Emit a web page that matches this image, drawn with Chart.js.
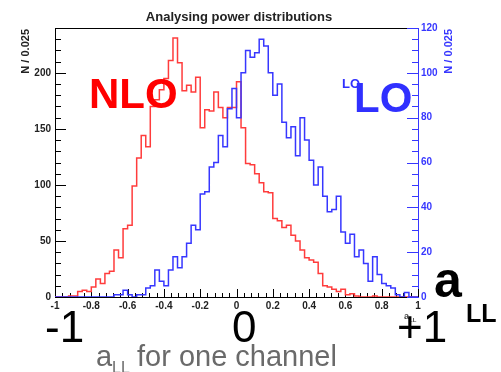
<!DOCTYPE html>
<html>
<head>
<meta charset="utf-8">
<script src="https://cdn.jsdelivr.net/npm/chart.js@4.4.1/dist/chart.umd.min.js"></script>
<style>
  html, body { margin: 0; padding: 0; background: #fff; }
</style>
</head>
<body>
<canvas id="chart" width="501" height="372"></canvas>
<script>
// ─── Histogram data: 80 bins of width 0.025 on [-1, 1] ───

const binEdges = [
  -1, -0.975, -0.95, -0.925, -0.9, -0.875, -0.85, -0.825, -0.8, -0.775,
  -0.75, -0.725, -0.7, -0.675, -0.65, -0.625, -0.6, -0.575, -0.55, -0.525,
  -0.5, -0.475, -0.45, -0.425, -0.4, -0.375, -0.35, -0.325, -0.3, -0.275,
  -0.25, -0.225, -0.2, -0.175, -0.15, -0.125, -0.1, -0.075, -0.05, -0.025,
  0, 0.025, 0.05, 0.075, 0.1, 0.125, 0.15, 0.175, 0.2, 0.225,
  0.25, 0.275, 0.3, 0.325, 0.35, 0.375, 0.4, 0.425, 0.45, 0.475,
  0.5, 0.525, 0.55, 0.575, 0.6, 0.625, 0.65, 0.675, 0.7, 0.725,
  0.75, 0.775, 0.8, 0.825, 0.85, 0.875, 0.9, 0.925, 0.95, 0.975,
  1,
];

// NLO counts (left axis)
const nloCounts = [
  0, 0, 0, 1, 1, 5, 6, 5, 9, 16,
  12, 21, 23, 42, 35, 61, 64, 99, 124, 144,
  134, 170, 176, 185, 195, 211, 231, 209, 184, 189,
  183, 196, 151, 167, 166, 183, 169, 160, 169, 169,
  192, 151, 119, 118, 110, 102, 94, 93, 70, 68,
  62, 64, 55, 50, 42, 35, 33, 31, 21, 10,
  9, 7, 5, 7, 2, 3, 1, 0, 0, 0,
  1, 0, 0, 0, 0, 0, 0, 0, 0, 0,
];

// LO counts (right axis)
const loCounts = [
  0, 0, 0, 0, 0, 0, 0, 0, 0, 0,
  0, 0, 0, 1, 1, 3, 1, 0, 1, 1,
  4, 5, 12, 7, 5, 12, 18, 13, 18, 24,
  32, 30, 46, 47, 58, 60, 72, 67, 84, 93,
  80, 100, 110, 107, 109, 115, 112, 100, 90, 95,
  78, 71, 76, 63, 80, 70, 61, 50, 58, 45,
  38, 39, 45, 29, 24, 28, 18, 21, 15, 7,
  18, 10, 6, 5, 4, 1, 0, 2, 0, 0,
];

const xTickValues = [-1, -0.8, -0.6, -0.4, -0.2, 0, 0.2, 0.4, 0.6, 0.8, 1];
const xTickLabels = ['-1', '-0.8', '-0.6', '-0.4', '-0.2', '0', '0.2', '0.4', '0.6', '0.8', '1'];
const yLeftTickValues = [0, 50, 100, 150, 200];
const yLeftTickLabels = ['0', '50', '100', '150', '200'];
const yRightTickValues = [0, 20, 40, 60, 80, 100, 120];
const yRightTickLabels = ['0', '20', '40', '60', '80', '100', '120'];

// ─── Style ───

const FONT = "'Liberation Sans', Arial, Helvetica, sans-serif";
const RED = 'rgb(255, 60, 60)';
const BLUE = 'rgb(55, 55, 255)';

// step outline: one point per left bin edge, last edge repeats the last bin
function histPoints(counts) {
  return binEdges.map((x, i) => ({ x, y: counts[Math.min(i, counts.length - 1)] }));
}

function fixedTicks(values) {
  return scale => { scale.ticks = values.map(v => ({ value: v })); };
}

// ─── ROOT-style inward tick marks + top frame ───

const rootFrame = {
  id: 'rootFrame',
  beforeDatasetsDraw(chart) {
    const { ctx, chartArea: a, scales: { x, yL, yR } } = chart;
    const px = v => Math.round(v) + 0.5;
    ctx.save();
    ctx.lineWidth = 1;

    ctx.strokeStyle = '#000';
    ctx.beginPath();
    ctx.moveTo(a.left, px(a.top));
    ctx.lineTo(a.right, px(a.top));
    // x ticks, major every 0.2, minor every 0.04
    for (let k = 0; k <= 50; k++) {
      const xp = px(x.getPixelForValue(-1 + k * 0.04));
      const len = k % 5 === 0 ? 8 : 4;
      ctx.moveTo(xp, a.bottom);
      ctx.lineTo(xp, a.bottom - len);
    }
    // left ticks, major every 50, minor every 10
    for (let v = 0; v <= 240; v += 10) {
      const yp = px(yL.getPixelForValue(v));
      const len = v % 50 === 0 ? 11 : 6;
      ctx.moveTo(a.left, yp);
      ctx.lineTo(a.left + len, yp);
    }
    ctx.stroke();

    // right ticks, major every 20, minor every 5
    ctx.strokeStyle = BLUE;
    ctx.beginPath();
    for (let v = 0; v <= 120; v += 5) {
      const yp = px(yR.getPixelForValue(v));
      const len = v % 20 === 0 ? 11 : 6;
      ctx.moveTo(a.right, yp);
      ctx.lineTo(a.right - len, yp);
    }
    ctx.stroke();
    ctx.restore();
  },
};

// ─── Annotations (title, axis titles, big labels) ───

function text(ctx, str, x, y, font, color, align = 'left') {
  ctx.font = font;
  ctx.fillStyle = color;
  ctx.textAlign = align;
  ctx.textBaseline = 'alphabetic';
  ctx.fillText(str, x, y);
}

function vtext(ctx, str, x, y, font, color) {
  ctx.save();
  ctx.translate(x, y);
  ctx.rotate(-Math.PI / 2);
  ctx.font = font;
  ctx.fillStyle = color;
  ctx.textAlign = 'right';
  ctx.textBaseline = 'middle';
  ctx.fillText(str, 0, 0);
  ctx.restore();
}

const annotations = {
  id: 'annotations',
  afterDatasetsDraw(chart) {
    const ctx = chart.ctx;
    ctx.save();
    text(ctx, 'Analysing power distributions', 239, 21, `bold 13px ${FONT}`, '#222', 'center');
    vtext(ctx, 'N / 0.025', 26, 29, `bold 11px ${FONT}`, '#222');
    vtext(ctx, 'N / 0.025', 449, 29, `bold 11px ${FONT}`, BLUE);

    text(ctx, 'NLO', 89, 108, `bold 42px ${FONT}`, '#ff0000');
    text(ctx, 'LO', 342, 88, `bold 13px ${FONT}`, '#3030ff');
    text(ctx, 'LO', 354, 112, `bold 42px ${FONT}`, '#3030ff');

    // small ROOT axis title, partly hidden behind "+1"
    text(ctx, 'a', 404, 319, `bold 9px ${FONT}`, '#444');
    text(ctx, 'LL', 409, 322, `bold 6px ${FONT}`, '#444');

    text(ctx, 'a', 434, 297, `bold 50px ${FONT}`, '#000');
    text(ctx, 'LL', 466, 322, `bold 25px ${FONT}`, '#000');

    text(ctx, '-1', 45, 342, `44px ${FONT}`, '#000');
    text(ctx, '0', 232, 342, `44px ${FONT}`, '#000');
    text(ctx, '+1', 397, 342, `44px ${FONT}`, '#000');

    text(ctx, 'a', 96, 366, `29px ${FONT}`, '#6a6a6a');
    text(ctx, 'LL', 112, 373, `16px ${FONT}`, '#6a6a6a');
    text(ctx, 'for one channel', 137, 366, `29px ${FONT}`, '#6a6a6a');
    ctx.restore();
  },
};

// ─── Chart ───

new Chart(document.getElementById('chart'), {
  type: 'line',
  data: {
    datasets: [
      {
        label: 'LO',
        data: histPoints(loCounts),
        yAxisID: 'yR',
        borderColor: BLUE,
        borderWidth: 1.5,
        stepped: true,
        pointRadius: 0,
        fill: false,
        order: 0,
      },
      {
        label: 'NLO',
        data: histPoints(nloCounts),
        yAxisID: 'yL',
        borderColor: RED,
        borderWidth: 1.5,
        stepped: true,
        pointRadius: 0,
        fill: false,
        order: 1,
      },
    ],
  },
  options: {
    responsive: false,
    animation: false,
    layout: { padding: { top: 28, left: 0, right: 0, bottom: 0 } },
    plugins: {
      legend: { display: false },
      tooltip: { enabled: false },
    },
    scales: {
      x: {
        type: 'linear',
        position: 'bottom',
        min: -1,
        max: 1,
        grid: { display: false, drawTicks: false },
        border: { display: true, color: '#000', width: 1 },
        ticks: {
          color: '#222',
          padding: 3,
          autoSkip: false,
          maxRotation: 0,
          font: { family: FONT, size: 10, weight: 'bold' },
          callback: (v, i) => xTickLabels[i],
        },
        afterBuildTicks: fixedTicks(xTickValues),
        afterFit: s => { s.height = 75; },
      },
      yL: {
        type: 'linear',
        position: 'left',
        min: 0,
        max: 240,
        grid: { display: false, drawTicks: false },
        border: { display: true, color: '#000', width: 1 },
        ticks: {
          color: '#222',
          padding: 4,
          font: { family: FONT, size: 10, weight: 'bold' },
          callback: (v, i) => yLeftTickLabels[i],
        },
        afterBuildTicks: fixedTicks(yLeftTickValues),
        afterFit: s => { s.width = 55; },
      },
      yR: {
        type: 'linear',
        position: 'right',
        min: 0,
        max: 120,
        grid: { display: false, drawTicks: false },
        border: { display: true, color: BLUE, width: 1 },
        ticks: {
          color: BLUE,
          padding: 3,
          font: { family: FONT, size: 10, weight: 'bold' },
          callback: (v, i) => yRightTickLabels[i],
        },
        afterBuildTicks: fixedTicks(yRightTickValues),
        afterFit: s => { s.width = 83; },
      },
    },
  },
  plugins: [rootFrame, annotations],
});
</script>
</body>
</html>
